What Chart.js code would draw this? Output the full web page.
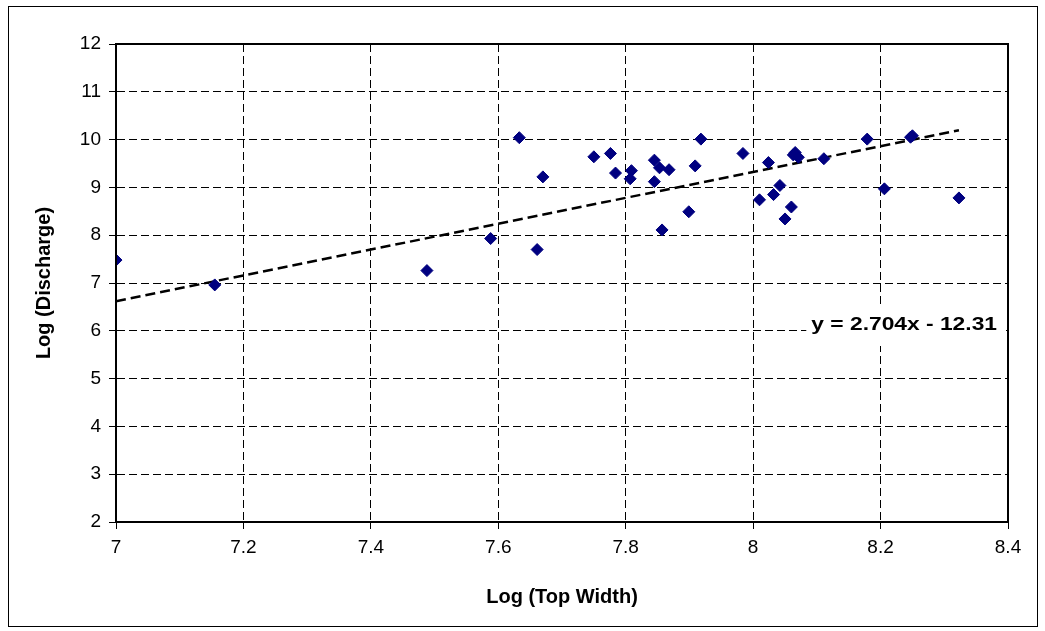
<!DOCTYPE html>
<html>
<head>
<meta charset="utf-8">
<title>Log (Discharge) vs Log (Top Width)</title>
<script src="https://cdn.jsdelivr.net/npm/chart.js@4.4.1/dist/chart.umd.min.js"></script>
<style>
  html, body { margin: 0; padding: 0; background: #ffffff; }
  #wrap { width: 1045px; height: 631px; position: relative; }
</style>
</head>
<body>
<div id="wrap"><canvas id="chart" width="1045" height="631"></canvas></div>
<script>
// Observed channel data: log of top width vs log of discharge
const logTopWidth = [
  7.000, 7.155, 7.488, 7.588, 7.633, 7.661, 7.670, 7.750, 7.776, 7.784,
  7.807, 7.809, 7.845, 7.853, 7.845, 7.857, 7.868, 7.899, 7.909, 7.918,
  7.984, 8.010, 8.024, 8.032, 8.042, 8.050, 8.060, 8.063, 8.066, 8.071,
  8.111, 8.179, 8.206, 8.247, 8.250, 8.323
];
const logDischarge = [
  7.48, 6.96, 7.26, 7.93, 10.04, 7.70, 9.22, 9.64, 9.71, 9.30,
  9.18, 9.35, 9.57, 9.41, 9.12, 8.11, 9.37, 8.49, 9.45, 10.01,
  9.71, 8.74, 9.52, 8.85, 9.04, 8.34, 8.59, 9.68, 9.73, 9.63,
  9.60, 10.01, 8.97, 10.05, 10.08, 8.78
];

// Linear trend fitted to the points
const trendSlope = 2.704;
const trendIntercept = -12.31;
const trendLabel = 'y = 2.704x - 12.31';

// Axis ticks
const xTickValues = [7, 7.2, 7.4, 7.6, 7.8, 8, 8.2, 8.4];
const xTickLabels = ['7', '7.2', '7.4', '7.6', '7.8', '8', '8.2', '8.4'];
const yTickValues = [2, 3, 4, 5, 6, 7, 8, 9, 10, 11, 12];
const yTickLabels = ['2', '3', '4', '5', '6', '7', '8', '9', '10', '11', '12'];

const xTitle = 'Log (Top Width)';
const yTitle = 'Log (Discharge)';

const points = logTopWidth.map((x, i) => ({ x: x, y: logDischarge[i] }));
const trendStart = Math.min(...logTopWidth);
const trendEnd = Math.max(...logTopWidth);
const trendPoints = [trendStart, trendEnd].map(x => ({ x: x, y: trendSlope * x + trendIntercept }));

const FONT = "'Liberation Sans', Arial, sans-serif";

function labelFor(values, labels, v) {
  const i = values.findIndex(t => Math.abs(t - v) < 1e-6);
  return i >= 0 ? labels[i] : '';
}

// Outer chart frame, solid plot box and the trend equation box
const framePlugin = {
  id: 'frame',
  beforeDraw(chart) {
    const ctx = chart.ctx;
    ctx.save();
    ctx.fillStyle = '#ffffff';
    ctx.fillRect(0, 0, chart.width, chart.height);
    ctx.strokeStyle = '#000000';
    ctx.lineWidth = 1;
    ctx.strokeRect(8.5, 6.5, 1029, 620);
    ctx.restore();
  },
  afterDraw(chart) {
    const ctx = chart.ctx;
    const a = chart.chartArea;
    ctx.save();
    // plot box
    ctx.strokeStyle = '#000000';
    ctx.lineWidth = 2;
    ctx.strokeRect(a.left, a.top, a.right - a.left, a.bottom - a.top);
    // trend equation, set slightly wide
    const sx = 1.2;
    ctx.font = 'bold 19px ' + FONT;
    const w = ctx.measureText(trendLabel).width * sx;
    const right = a.right - 11;
    const cx = right - w / 2;
    const cy = a.top + 281;
    ctx.fillStyle = '#ffffff';
    ctx.fillRect(cx - w / 2 - 5, cy - 20, w + 14, 41);
    ctx.translate(cx, cy);
    ctx.scale(sx, 1);
    ctx.fillStyle = '#000000';
    ctx.textAlign = 'center';
    ctx.textBaseline = 'middle';
    ctx.fillText(trendLabel, 0, 0);
    ctx.restore();
  }
};

new Chart(document.getElementById('chart'), {
  type: 'scatter',
  data: {
    datasets: [
      {
        label: 'Observed',
        data: points,
        pointStyle: 'rectRot',
        pointRadius: 6,
        pointHoverRadius: 6,
        pointBorderWidth: 1,
        backgroundColor: '#000080',
        borderColor: '#000080',
        showLine: false
      },
      {
        label: 'Linear trend',
        data: trendPoints,
        showLine: true,
        borderColor: '#000000',
        borderWidth: 2.5,
        borderDash: [10, 5],
        pointRadius: 0,
        pointHoverRadius: 0,
        fill: false
      }
    ]
  },
  options: {
    responsive: false,
    animation: false,
    events: [],
    layout: { padding: { left: 0, top: 44, right: 37, bottom: 0 } },
    plugins: {
      legend: { display: false },
      tooltip: { enabled: false }
    },
    scales: {
      x: {
        type: 'linear',
        min: 7,
        max: 8.4,
        afterFit(scale) { scale.height = 109; },
        afterBuildTicks(scale) { scale.ticks = xTickValues.map(v => ({ value: v })); },
        ticks: {
          color: '#000000',
          font: { family: FONT, size: 19 },
          padding: 7,
          maxRotation: 0,
          autoSkip: false,
          callback: (v) => labelFor(xTickValues, xTickLabels, v)
        },
        grid: {
          color: '#000000',
          lineWidth: 1,
          tickLength: 7,
          tickColor: '#000000',
          tickBorderDash: []
        },
        border: { display: true, color: '#000000', width: 2, dash: [8, 4] },
        title: {
          display: true,
          text: xTitle,
          color: '#000000',
          font: { family: FONT, size: 20, weight: 'bold' },
          padding: { top: 0, bottom: 22 }
        }
      },
      y: {
        type: 'linear',
        min: 2,
        max: 12,
        afterFit(scale) { scale.width = 116; },
        afterBuildTicks(scale) { scale.ticks = yTickValues.map(v => ({ value: v })); },
        ticks: {
          color: '#000000',
          font: { family: FONT, size: 19 },
          padding: 8,
          autoSkip: false,
          callback: (v) => labelFor(yTickValues, yTickLabels, v)
        },
        grid: {
          color: '#000000',
          lineWidth: 1,
          tickLength: 7,
          tickColor: '#000000',
          tickBorderDash: []
        },
        border: { display: true, color: '#000000', width: 2, dash: [8, 4] },
        title: {
          display: true,
          text: yTitle,
          color: '#000000',
          font: { family: FONT, size: 20, weight: 'bold' },
          padding: { top: 32, bottom: 0 }
        }
      }
    }
  },
  plugins: [framePlugin]
});
</script>
</body>
</html>
